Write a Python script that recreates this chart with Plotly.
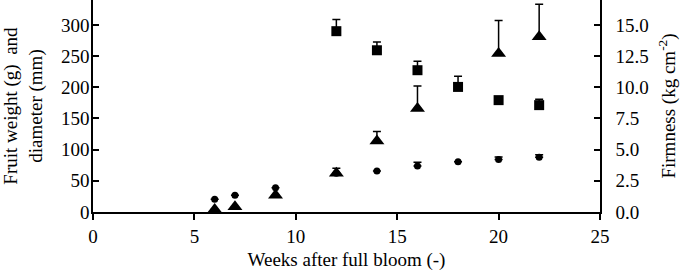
import plotly.graph_objects as go

weeks_weight = [6, 7, 9, 12, 14, 16, 20, 22]
fruit_weight = [4, 8.5, 27, 62, 114, 166, 254, 281]
fruit_weight_err = [0, 0, 0, 8, 15, 36, 53, 52]

weeks_diam = [6, 7, 9, 12, 14, 16, 18, 20, 22]
diameter = [20.3, 27, 39, 62, 65.6, 73.7, 80.6, 84.3, 88]
diameter_err = [0, 0, 0, 0, 0, 6, 0, 4, 4]

weeks_firm = [12, 14, 16, 18, 20, 22]
firmness = [14.5, 12.97, 11.37, 10.03, 8.97, 8.57]
firmness_err = [0.93, 0.67, 0.72, 0.86, 0, 0.48]

FONT = "Liberation Serif, Times New Roman, serif"
FS = 19

def err(vals, color="black"):
    return dict(type="data", array=vals, arrayminus=[0] * len(vals), symmetric=False,
                color=color, thickness=1.5, width=4)

fig = go.Figure()
fig.add_trace(go.Scatter(x=weeks_weight, y=fruit_weight, mode="markers",
                         marker=dict(symbol="triangle-up", size=13, color="black"),
                         error_y=err(fruit_weight_err), name="Fruit weight"))
fig.add_trace(go.Scatter(x=weeks_diam, y=diameter, mode="markers",
                         marker=dict(symbol="circle", size=7, color="black"),
                         error_y=err(diameter_err), name="Diameter"))
fig.add_trace(go.Scatter(x=weeks_firm, y=firmness, mode="markers", yaxis="y2",
                         marker=dict(symbol="square", size=10, color="black"),
                         error_y=err(firmness_err), name="Firmness"))

axis_common = dict(showgrid=False, zeroline=False, showline=True, linecolor="black",
                   linewidth=1.5, tickcolor="black", tickwidth=1.5, ticklen=6,
                   automargin=False,
                   tickfont=dict(family=FONT, size=FS, color="black"))

fig.update_layout(
    width=680, height=274,
    margin=dict(l=93, r=80, t=0, b=62),
    paper_bgcolor="white", plot_bgcolor="white",
    showlegend=False,
    font=dict(family=FONT, size=FS, color="black"),
    xaxis=dict(range=[0, 25], dtick=5, ticks="outside",
               title=dict(text="Weeks after full bloom (-)", font=dict(family=FONT, size=FS), standoff=7),
               **axis_common),
    yaxis=dict(range=[0, 340], dtick=50, ticks="inside", ticklabelstandoff=-2,
               title=dict(text="Fruit weight (g)  and<br>diameter (mm)", font=dict(family=FONT, size=FS), standoff=20),
               **axis_common),
    yaxis2=dict(range=[0, 17], dtick=2.5, tickformat=".1f", ticks="inside", overlaying="y",
                side="right", ticklabelstandoff=10,
                title=dict(text="Firmness (kg cm<sup>-2</sup>)", font=dict(family=FONT, size=FS), standoff=22),
                **axis_common),
)

fig.write_html("out.html", config={"displayModeBar": False},
               post_script="document.body.style.margin='0';document.body.style.overflow='hidden';")
